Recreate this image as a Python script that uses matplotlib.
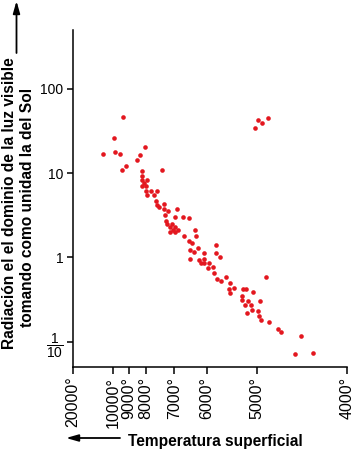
import numpy as np
import matplotlib
matplotlib.use("Agg")
import matplotlib.pyplot as plt
from matplotlib.ticker import NullLocator

plt.rcParams['font.family'] = ['Liberation Sans', 'DejaVu Sans']
plt.rcParams['mathtext.default'] = 'regular'

# Main sequence stars: surface temperature (K) and visible radiation (Sun = 1)
ms_temp = [9360, 9940, 12500, 9870, 9570, 8080, 8350, 8510, 9210, 9450,
           7420, 8240, 8260, 8210, 7980, 8090, 8240, 8000, 8000, 7830,
           7620, 7950, 7710, 7660, 7620, 7550, 7350, 7380, 7230, 6910,
           7330, 6970, 6720, 6540, 7290, 7270, 7090, 7150, 6980, 7040,
           7150, 6980, 6880, 6690, 6370, 6330, 6540, 6460, 6280, 6510,
           6400, 6080, 6510, 5810, 5810, 5730, 6250, 6180, 6090, 6070,
           5960, 5880, 5970, 5850, 5790, 5710, 5620, 5540, 5450, 5550,
           5530, 5270, 5220, 5070, 5290, 5290, 5170, 5230, 5120, 4960,
           4900, 5090, 4990, 5200, 4980, 4950, 4860, 4770, 4730, 4510,
           4580, 4380]
ms_lum = [47, 26, 17, 18, 16.8, 20.6, 16.3, 14.2, 12.3, 10.9,
          10.8, 10.5, 9.3, 8.2, 8.4, 7.7, 7.1, 7.1, 6.1, 6.2,
          6.2, 5.5, 5.5, 4.7, 4.2, 4.0, 4.3, 3.8, 3.6, 3.8,
          3.2, 3.05, 3.05, 2.9, 2.7, 2.5, 2.5, 2.3, 2.3, 2.1,
          2.0, 2.0, 2.1, 1.8, 2.1, 1.8, 1.56, 1.5, 1.31, 1.23,
          1.17, 1.14, 0.96, 1.40, 1.14, 1.01, 0.93, 0.85, 0.95, 0.85,
          0.85, 0.77, 0.75, 0.66, 0.56, 0.53, 0.58, 0.49, 0.43, 0.42,
          0.38, 0.42, 0.42, 0.39, 0.35, 0.31, 0.30, 0.27, 0.27, 0.30,
          0.58, 0.24, 0.23, 0.22, 0.20, 0.18, 0.17, 0.14, 0.13, 0.116,
          0.071, 0.073]

# Giants
giant_temp = [5040, 4990, 4940, 4870]
giant_lum = [34, 43, 39, 45]

# temperature axis of the original is not uniform: tick values and where they sit
tick_temps = np.array([20000, 10000, 9000, 8000, 7000, 6000, 5000, 4000])
tick_pos = np.array([73, 113.3, 129, 146, 174.3, 206.7, 256.7, 347.3])
tick_labels = [f"{t}°" for t in tick_temps]


# increasing in temperature; the axis is then inverted with set_xlim
def temp_fwd(t):
    return -np.interp(-np.asarray(t, dtype=float), -tick_temps, tick_pos)


def temp_inv(p):
    return -np.interp(-np.asarray(p, dtype=float), tick_pos, -tick_temps)


fig = plt.figure(figsize=(3.55, 4.5), dpi=100)
ax = fig.add_axes([73 / 355, 83 / 450, 274.3 / 355, 337 / 450])

ax.set_xscale('function', functions=(temp_fwd, temp_inv))
ax.set_yscale('log')

red = '#e3171f'
ax.scatter(ms_temp, ms_lum, s=11, color=red, linewidths=0, zorder=3)
ax.scatter(giant_temp, giant_lum, s=11, color=red, linewidths=0, zorder=3)

ax.set_xlim(20000, 4000)
ax.set_ylim(0.05, 500)

ax.set_xticks(tick_temps, labels=tick_labels)
ax.set_yticks([0.1, 1, 10, 100], labels=[r'$\dfrac{1}{10}$', '1', '10', '100'])
ax.xaxis.set_minor_locator(NullLocator())
ax.yaxis.set_minor_locator(NullLocator())

for side in ['top', 'right']:
    ax.spines[side].set_visible(False)
for side in ['left', 'bottom']:
    ax.spines[side].set_linewidth(1.1)

ax.tick_params(axis='y', direction='out', length=4, width=1.1, labelsize=10, pad=3)
ax.tick_params(axis='x', direction='out', length=5, width=1.1, labelsize=11.5, pad=2,
               labelrotation=90)

# axis titles with arrows
fig.text(14, 246.5, 'Radiación el el dominio de la luz visible', transform=None,
         rotation=90, rotation_mode='anchor', ha='center', va='baseline',
         fontsize=11.2, fontweight='bold')
fig.text(32.5, 242.5, 'tomando como unidad la del Sol', transform=None,
         rotation=90, rotation_mode='anchor', ha='center', va='baseline',
         fontsize=11.2, fontweight='bold')
fig.text(128, 4, 'Temperatura superficial', transform=None,
         ha='left', va='baseline', fontsize=11.2, fontweight='bold')

arrow = dict(arrowstyle='-|>,head_length=0.6,head_width=0.17', lw=1.3,
             color='black', shrinkA=0, shrinkB=0)
ax.annotate('', xy=(16.5, 449), xytext=(16.5, 397), xycoords='figure pixels',
            textcoords='figure pixels', arrowprops=arrow, fontsize=12,
            annotation_clip=False)
ax.annotate('', xy=(66, 12), xytext=(120, 12), xycoords='figure pixels',
            textcoords='figure pixels', arrowprops=arrow, fontsize=12,
            annotation_clip=False)

fig.savefig('out.png', dpi=100)
